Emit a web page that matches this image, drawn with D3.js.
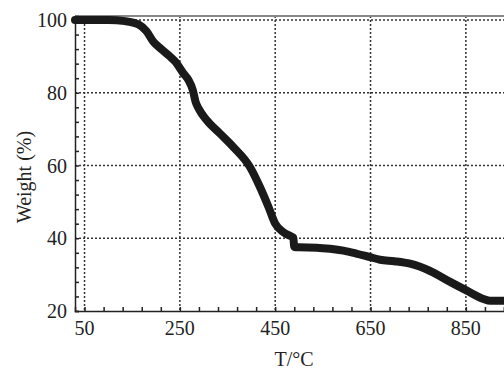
<!DOCTYPE html>
<html>
<head>
<meta charset="utf-8">
<script src="https://cdn.jsdelivr.net/npm/d3@7"></script>
<style>
	body { margin: 0; background: #fff; }
	svg { display: block; }
</style>
</head>
<body>
<div id="chart"></div>
<script>
	//Curve: temperature (°C) and weight (%)
	var temps = [30, 100, 135, 163, 180, 194, 212, 229, 240, 257, 268, 277, 283, 290, 306, 334, 362, 397, 418, 436, 450, 467, 482, 488, 490, 500, 537, 565, 593, 620, 649, 670, 700, 733, 775, 817, 852, 887, 901, 930];
	var weights = [100, 100, 99.7, 98.8, 96.9, 94.1, 91.9, 90, 88.6, 85.4, 83.5, 80.8, 77.5, 75.5, 72.5, 68.8, 65.1, 59.6, 54.1, 48.6, 44, 41.7, 40.6, 40.2, 37.6, 37.5, 37.4, 37.1, 36.6, 35.8, 34.8, 34.1, 33.7, 33.0, 31.0, 28.0, 25.6, 23.3, 22.8, 22.8];

	//Tick labels
	var xTicks = [50, 250, 450, 650, 850];
	var yTicks = [20, 40, 60, 80, 100];
	var xMinor = d3.range(50, 931, 40);
	var yMinor = d3.range(20, 101, 4);

	(function () {
		//Width and height
		var w = 504;
		var h = 371;
		var pLeft = 75, pRight = 504, pTop = 16, pBottom = 311;

		var dataset = temps.map(function (t, i) {
			return { T: t, W: weights[i] };
		});

		var xScale = d3.scaleLinear().domain([30, 930]).range([pLeft, pRight]);
		var yScale = d3.scaleLinear().domain([20, 101.1]).range([pBottom, pTop]);

		var svg = d3.select("#chart")
			.append("svg")
			.attr("width", w)
			.attr("height", h);

		var font = "'Liberation Serif', 'DejaVu Serif', serif";

		//Dotted grid
		svg.selectAll(".gx")
			.data(xTicks)
			.enter()
			.append("line")
			.attr("x1", function (d) { return xScale(d); })
			.attr("x2", function (d) { return xScale(d); })
			.attr("y1", pTop)
			.attr("y2", pBottom)
			.attr("stroke", "#333")
			.attr("stroke-width", 1.5)
			.attr("stroke-dasharray", "2,2");

		svg.selectAll(".gy")
			.data(yTicks.slice(1))
			.enter()
			.append("line")
			.attr("x1", pLeft)
			.attr("x2", pRight)
			.attr("y1", function (d) { return yScale(d); })
			.attr("y2", function (d) { return yScale(d); })
			.attr("stroke", "#333")
			.attr("stroke-width", 1.5)
			.attr("stroke-dasharray", "2,2");

		//Top frame line
		svg.append("line")
			.attr("x1", pLeft).attr("x2", pRight)
			.attr("y1", pTop).attr("y2", pTop)
			.attr("stroke", "#888")
			.attr("stroke-width", 2);

		//Bottom axis, ticks pointing inward
		var xAxis = svg.append("g")
			.attr("transform", "translate(0," + pBottom + ")")
			.call(d3.axisBottom(xScale).tickValues(xMinor).tickSize(-4).tickFormat(""));
		xAxis.select(".domain").attr("stroke", "#222").attr("stroke-width", 1.5);
		xAxis.selectAll(".tick line").attr("stroke", "#222").attr("stroke-width", 1.5);

		svg.selectAll(".xl")
			.data(xTicks)
			.enter()
			.append("text")
			.attr("x", function (d) { return xScale(d); })
			.attr("y", 335)
			.attr("text-anchor", "middle")
			.attr("font-family", font)
			.attr("font-size", "20px")
			.attr("fill", "#222")
			.text(function (d) { return d; });

		//Left axis
		var yAxis = svg.append("g")
			.attr("transform", "translate(" + pLeft + ",0)")
			.call(d3.axisLeft(yScale).tickValues(yMinor).tickSize(-4).tickFormat(""));
		yAxis.select(".domain").attr("stroke", "#222").attr("stroke-width", 1.5);
		yAxis.selectAll(".tick line").attr("stroke", "#222").attr("stroke-width", 1.5);

		svg.selectAll(".yl")
			.data(yTicks)
			.enter()
			.append("text")
			.attr("x", 67)
			.attr("y", function (d) { return yScale(d) + 7; })
			.attr("text-anchor", "end")
			.attr("font-family", font)
			.attr("font-size", "20px")
			.attr("fill", "#222")
			.text(function (d) { return d; });

		//The curve
		var line = d3.line()
			.x(function (d) { return xScale(d.T); })
			.y(function (d) { return yScale(d.W); })
			.curve(d3.curveMonotoneX);

		svg.append("path")
			.datum(dataset)
			.attr("d", line)
			.attr("fill", "none")
			.attr("stroke", "#1a1a1a")
			.attr("stroke-width", 8)
			.attr("stroke-linecap", "round")
			.attr("stroke-linejoin", "round");

		//Axis titles
		svg.append("text")
			.attr("text-anchor", "middle")
			.attr("x", 294)
			.attr("y", 366)
			.attr("font-family", font)
			.attr("font-size", "20px")
			.attr("fill", "#222")
			.text("T/°C");

		svg.append("text")
			.attr("text-anchor", "middle")
			.attr("transform", "translate(31,177)rotate(-90)")
			.attr("font-family", font)
			.attr("font-size", "20px")
			.attr("fill", "#222")
			.text("Weight (%)");
	})();
</script>
</body>
</html>
